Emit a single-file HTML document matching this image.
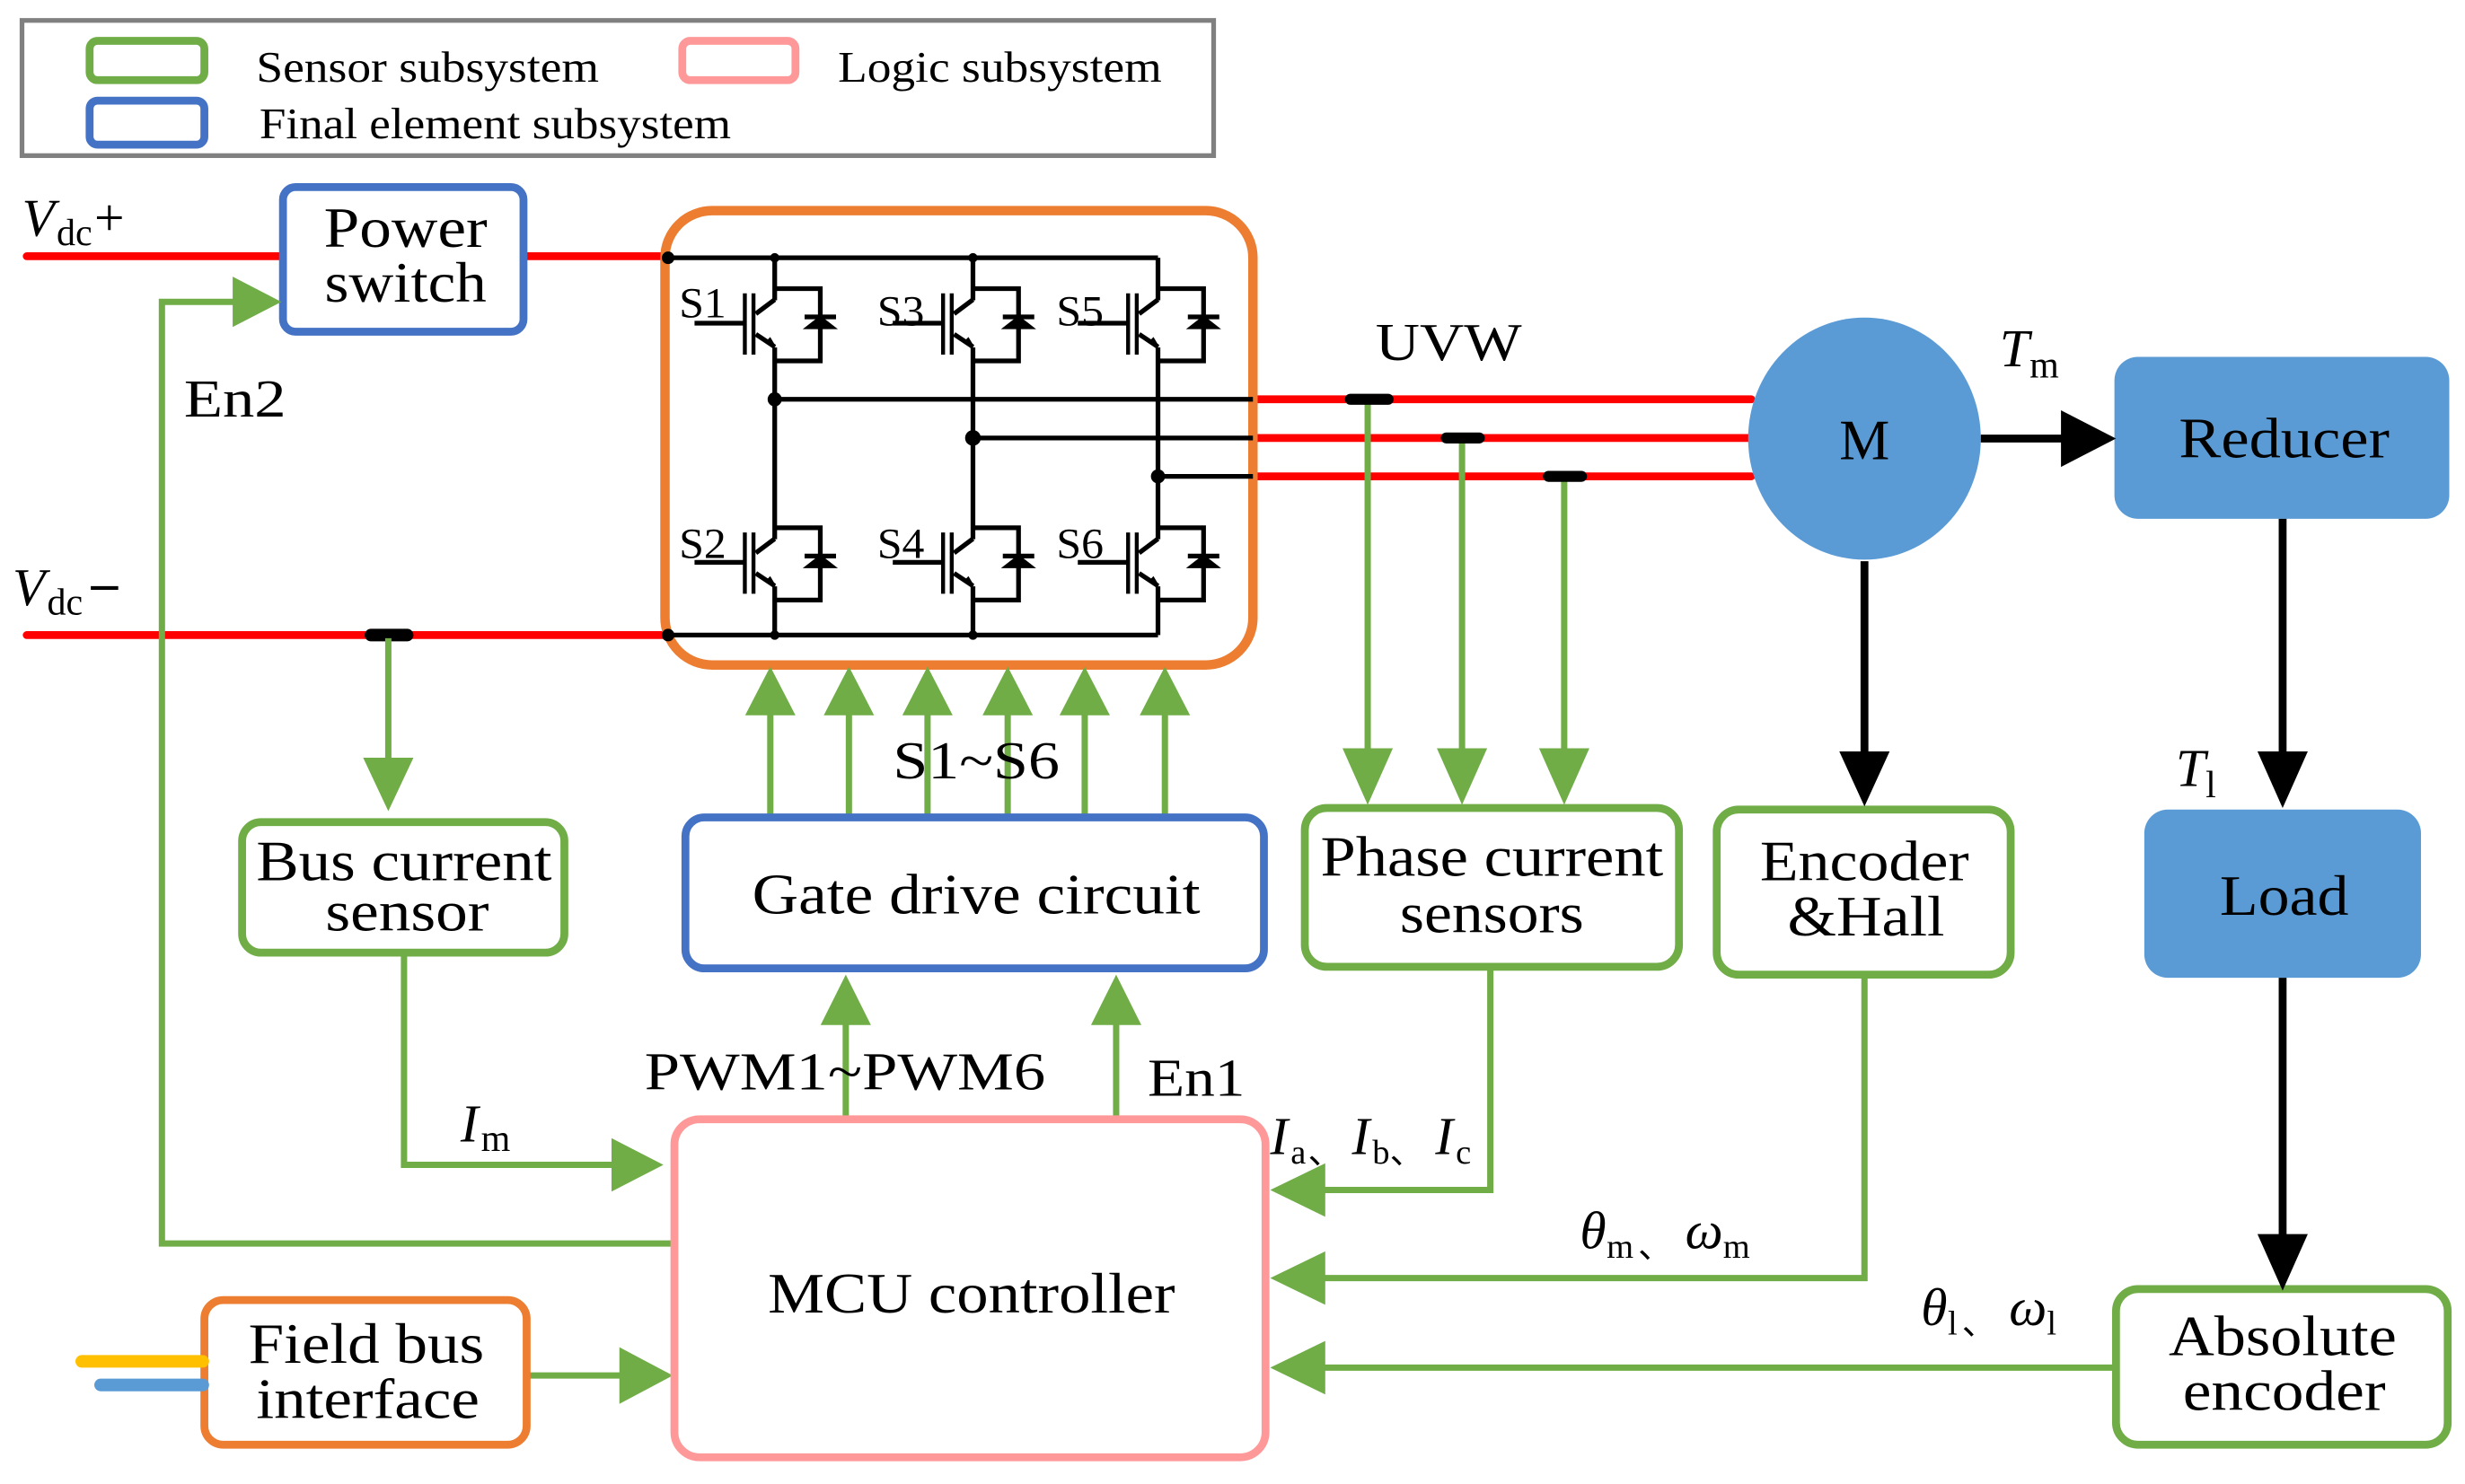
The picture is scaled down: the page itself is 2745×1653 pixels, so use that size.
<!DOCTYPE html>
<html><head><meta charset="utf-8"><style>html,body{margin:0;padding:0;background:#fff}svg{display:block}</style></head>
<body>
<svg width="2745" height="1653" viewBox="0 0 1568 944" preserveAspectRatio="none" xmlns="http://www.w3.org/2000/svg" font-family="'Liberation Serif', serif">
<defs>
<g id="tr" stroke="#000" stroke-width="3" fill="none">
  <path d="M0,0 L29,0 L29,46 L0,46"/>
  <path d="M0,7 L-12,16"/>
  <path d="M-12,29 L0,37"/>
  <path d="M-19,3 V42 M-13.5,3 V42" stroke-width="2.5"/>
  <path d="M-51,22 H-19"/>
  <path d="M19,18 H39" stroke-width="3"/>
  <path d="M20,25 H38 L29,18 Z" fill="#000" stroke-width="1.5"/>
  <path d="M-5,34 L0,37 L-3,32 Z" fill="#000" stroke-width="1.5"/>
</g>
</defs>

<!-- Legend -->
<rect x="14" y="13" width="758" height="86" fill="none" stroke="#808080" stroke-width="3"/>
<rect x="57" y="26" width="73" height="25" rx="5" fill="none" stroke="#70AD47" stroke-width="5"/>
<rect x="434" y="26" width="72" height="25" rx="5" fill="none" stroke="#FF9999" stroke-width="5"/>
<rect x="57" y="64" width="73" height="28" rx="5" fill="none" stroke="#4472C4" stroke-width="5"/>
<g font-size="28" fill="#000">
<text x="163" y="52" textLength="218" lengthAdjust="spacingAndGlyphs">Sensor subsystem</text>
<text x="533" y="52" textLength="206" lengthAdjust="spacingAndGlyphs">Logic subsystem</text>
<text x="165" y="88" textLength="300" lengthAdjust="spacingAndGlyphs">Final element subsystem</text>
</g>

<!-- DC bus -->
<g stroke="#FF0000" stroke-width="5" stroke-linecap="round">
<path d="M17,163 H179"/><path d="M333,163 H423"/><path d="M17,404 H423"/>
<path d="M800,254 H1114"/><path d="M800,278.6 H1112"/><path d="M800,303 H1114"/>
</g>
<g font-size="34" fill="#000">
<text x="14" y="150" font-style="italic">V</text><text x="36" y="156" font-size="24">dc</text><text x="60" y="150" font-size="34">+</text>
<text x="8" y="385" font-style="italic">V</text><text x="30" y="391" font-size="24">dc</text><text x="58" y="382" font-size="34" font-weight="bold">–</text>
</g>
<path d="M236,404 H259" stroke="#000" stroke-width="8" stroke-linecap="round"/>

<!-- Power switch -->
<rect x="180" y="119" width="153" height="92" rx="8" fill="#fff" stroke="#4472C4" stroke-width="5"/>
<g font-size="36" text-anchor="middle" fill="#000">
<text x="258" y="157" textLength="104" lengthAdjust="spacingAndGlyphs">Power</text>
<text x="258" y="192" textLength="103" lengthAdjust="spacingAndGlyphs">switch</text>
</g>

<!-- En2 -->
<g stroke="#70AD47" stroke-width="4" fill="none">
<path d="M428,791 H103 V192 H152"/>
</g>
<path d="M148,176 L179,192 L148,208 Z" fill="#70AD47"/>
<text x="117" y="265" font-size="34" textLength="65" lengthAdjust="spacingAndGlyphs">En2</text>

<!-- Inverter -->
<rect x="423" y="134" width="374" height="289" rx="30" fill="none" stroke="#ED7D31" stroke-width="6"/>
<g stroke="#000" stroke-width="3" fill="none">
<path d="M425,164 H736.6 M425,404 H736.6"/>
<path d="M492.8,164 V191 M492.8,221 V343 M492.8,373 V404"/>
<path d="M618.9,164 V191 M618.9,221 V343 M618.9,373 V404"/>
<path d="M736.6,164 V191 M736.6,221 V343 M736.6,373 V404"/>
<path d="M492.8,254 H797 M618.9,278.6 H797 M736.6,303 H797"/>
</g>
<g fill="#000">
<circle cx="425" cy="164" r="4"/><circle cx="425" cy="404" r="4"/>
<circle cx="492.8" cy="164" r="3"/><circle cx="618.9" cy="164" r="3"/>
<circle cx="492.8" cy="404" r="3"/><circle cx="618.9" cy="404" r="3"/>
<circle cx="492.8" cy="254" r="4.5"/><circle cx="618.9" cy="278.6" r="5"/><circle cx="736.6" cy="303" r="4.5"/>
</g>
<use href="#tr" x="492.8" y="183.6"/><use href="#tr" x="618.9" y="183.6"/><use href="#tr" x="736.6" y="183.6"/>
<use href="#tr" x="492.8" y="335.7"/><use href="#tr" x="618.9" y="335.7"/><use href="#tr" x="736.6" y="335.7"/>
<g font-size="27" fill="#000">
<text x="432" y="202" textLength="30" lengthAdjust="spacingAndGlyphs">S1</text><text x="558" y="207" textLength="30" lengthAdjust="spacingAndGlyphs">S3</text><text x="672" y="207" textLength="30" lengthAdjust="spacingAndGlyphs">S5</text>
<text x="432" y="355" textLength="30" lengthAdjust="spacingAndGlyphs">S2</text><text x="558" y="355" textLength="30" lengthAdjust="spacingAndGlyphs">S4</text><text x="672" y="355" textLength="30" lengthAdjust="spacingAndGlyphs">S6</text>
</g>

<!-- Green connectors -->
<g stroke="#70AD47" stroke-width="4" fill="none">
<path d="M490,519 V450 M540,519 V450 M590,519 V450 M641,519 V450 M690,519 V450 M741,519 V450"/>
<path d="M538,711 V645 M710,711 V645"/>
<path d="M247,406 V485"/>
<path d="M257,607 V741 H392"/>
<path d="M336,875 H396"/>
<path d="M948,616 V757 H840"/>
<path d="M1186,621 V813 H840"/>
<path d="M1345,870 H840"/>
<path d="M870,256 V478 M930,281 V478 M995,305 V478"/>
</g>
<g fill="#70AD47">
<path d="M474,455 L490,424 L506,455 Z"/><path d="M524,455 L540,424 L556,455 Z"/><path d="M574,455 L590,424 L606,455 Z"/>
<path d="M625,455 L641,424 L657,455 Z"/><path d="M674,455 L690,424 L706,455 Z"/><path d="M725,455 L741,424 L757,455 Z"/>
<path d="M522,652 L538,620 L554,652 Z"/><path d="M694,652 L710,620 L726,652 Z"/>
<path d="M231,482 L247,516 L263,482 Z"/>
<path d="M389,724 L422,741 L389,758 Z"/>
<path d="M394,857 L428,875 L394,893 Z"/>
<path d="M843,740 L808,757 L843,774 Z"/>
<path d="M843,796 L808,813 L843,830 Z"/>
<path d="M843,853 L808,870 L843,887 Z"/>
<path d="M854,476 L870,512 L886,476 Z"/><path d="M914,476 L930,512 L946,476 Z"/><path d="M979,476 L995,512 L1011,476 Z"/>
</g>
<g stroke="#000" stroke-width="7" stroke-linecap="round">
<path d="M859,254 H883 M920,278.6 H941 M985,303 H1006"/>
</g>
<g font-size="34" fill="#000">
<text x="568" y="495" textLength="106" lengthAdjust="spacingAndGlyphs">S1~S6</text>
<text x="410" y="693" textLength="255" lengthAdjust="spacingAndGlyphs">PWM1~PWM6</text>
<text x="730" y="697" textLength="62" lengthAdjust="spacingAndGlyphs">En1</text>
<text x="875" y="229" textLength="93" lengthAdjust="spacingAndGlyphs">UVW</text>
<text x="293" y="726" font-style="italic">I</text><text x="306" y="732" font-size="24">m</text>
</g>

<!-- Boxes -->
<rect x="154" y="523" width="205" height="83" rx="12" fill="#fff" stroke="#70AD47" stroke-width="5"/>
<rect x="436" y="520" width="368" height="96" rx="12" fill="#fff" stroke="#4472C4" stroke-width="5"/>
<rect x="429" y="712" width="376" height="215" rx="16" fill="#fff" stroke="#FF9999" stroke-width="5"/>
<rect x="130" y="827" width="205" height="92" rx="12" fill="#fff" stroke="#ED7D31" stroke-width="5"/>
<rect x="830" y="514" width="238" height="101" rx="14" fill="#fff" stroke="#70AD47" stroke-width="5"/>
<rect x="1092" y="515" width="187" height="105" rx="14" fill="#fff" stroke="#70AD47" stroke-width="5"/>
<rect x="1346" y="820" width="211" height="99" rx="14" fill="#fff" stroke="#70AD47" stroke-width="5"/>
<path d="M52,866 H129" stroke="#FFC000" stroke-width="8" stroke-linecap="round"/>
<path d="M64,881 H129" stroke="#5B9BD5" stroke-width="8" stroke-linecap="round"/>
<g font-size="36" text-anchor="middle" fill="#000">
<text x="257" y="560" textLength="188" lengthAdjust="spacingAndGlyphs">Bus current</text>
<text x="259" y="592" textLength="104" lengthAdjust="spacingAndGlyphs">sensor</text>
<text x="621" y="581" textLength="285" lengthAdjust="spacingAndGlyphs">Gate drive circuit</text>
<text x="618" y="835" textLength="259" lengthAdjust="spacingAndGlyphs">MCU controller</text>
<text x="233" y="867" textLength="150" lengthAdjust="spacingAndGlyphs">Field bus</text>
<text x="234" y="902" textLength="142" lengthAdjust="spacingAndGlyphs">interface</text>
<text x="949" y="557" textLength="218" lengthAdjust="spacingAndGlyphs">Phase current</text>
<text x="949" y="593" textLength="117" lengthAdjust="spacingAndGlyphs">sensors</text>
<text x="1186" y="560" textLength="133" lengthAdjust="spacingAndGlyphs">Encoder</text>
<text x="1187" y="595" textLength="100" lengthAdjust="spacingAndGlyphs">&amp;Hall</text>
<text x="1452" y="862" textLength="145" lengthAdjust="spacingAndGlyphs">Absolute</text>
<text x="1453" y="897" textLength="129" lengthAdjust="spacingAndGlyphs">encoder</text>
</g>

<!-- Motor side -->
<ellipse cx="1186" cy="279" rx="74" ry="77" fill="#5B9BD5"/>
<rect x="1345" y="227" width="213" height="103" rx="15" fill="#5B9BD5"/>
<rect x="1364" y="515" width="176" height="107" rx="15" fill="#5B9BD5"/>
<g stroke="#000" stroke-width="5">
<path d="M1260,279 H1315"/><path d="M1186,357 V482"/><path d="M1452,330 V482"/><path d="M1452,622 V788"/>
</g>
<g fill="#000">
<path d="M1311,261 L1346,279 L1311,297 Z"/>
<path d="M1170,478 L1186,513 L1202,478 Z"/>
<path d="M1436,478 L1452,514 L1468,478 Z"/>
<path d="M1436,785 L1452,821 L1468,785 Z"/>
</g>
<g font-size="36" text-anchor="middle" fill="#000">
<text x="1186" y="292">M</text>
<text x="1453" y="291" textLength="134" lengthAdjust="spacingAndGlyphs">Reducer</text>
<text x="1453" y="582" textLength="82" lengthAdjust="spacingAndGlyphs">Load</text>
</g>
<g font-size="34" fill="#000">
<text x="1272" y="233" font-style="italic">T</text><text x="1291" y="240" font-size="24">m</text>
<text x="1384" y="500" font-style="italic">T</text><text x="1403" y="507" font-size="24">l</text>
<text x="808" y="734" font-style="italic">I</text><text x="821" y="740" font-size="22">a</text><text x="832" y="740" font-size="22">、</text>
<text x="860" y="734" font-style="italic">I</text><text x="873" y="740" font-size="22">b</text><text x="884" y="740" font-size="22">、</text>
<text x="913" y="734" font-style="italic">I</text><text x="926" y="740" font-size="22">c</text>
<text x="1005" y="794" font-style="italic">θ</text><text x="1022" y="800" font-size="22">m</text><text x="1042" y="800" font-size="22">、</text>
<text x="1072" y="794" font-style="italic">ω</text><text x="1096" y="800" font-size="22">m</text>
<text x="1222" y="843" font-style="italic">θ</text><text x="1239" y="849" font-size="22">l</text><text x="1248" y="849" font-size="22">、</text>
<text x="1278" y="843" font-style="italic">ω</text><text x="1302" y="849" font-size="22">l</text>
</g>
</svg>
</body></html>
